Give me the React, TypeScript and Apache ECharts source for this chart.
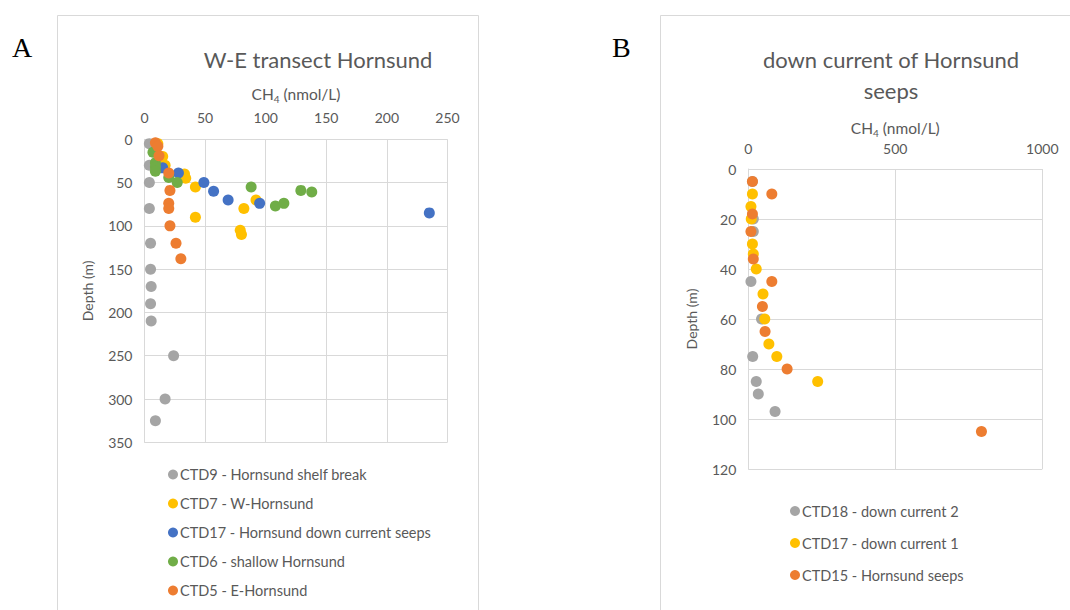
import React, { useEffect, useRef } from "react";
import * as echarts from "echarts";

// Panel A: [CH4 (nmol/L), depth (m)]
const ctd9ShelfBreak = [[4, 5], [4, 30], [4, 50], [4, 80], [5, 120], [5, 150], [5.5, 170], [5, 190], [5.5, 210], [24, 250], [17, 300], [9, 325]];
const ctd7WHornsund = [[11, 5], [15, 20], [17, 30], [33, 40], [34, 45], [42, 55], [42, 90], [92, 70], [82, 80], [79, 105], [80, 110]];
const ctd17DownCurrentSeeps = [[15, 33], [28, 39], [49, 50], [57, 60], [69, 70], [95, 74], [235, 85]];
const ctd6Shallow = [[7, 15], [9, 27], [9, 32], [9, 37], [20, 44], [27, 50], [88, 55], [108, 77], [115, 74], [129, 59], [138, 61]];
const ctd5EHornsund = [[9, 4], [11, 8], [12, 19], [20, 39], [21, 59], [20, 74], [20, 80], [21, 100], [26, 120], [30, 138]];

// Panel B
const ctd18DownCurrent2 = [[14, 5], [17, 20], [17, 25], [9, 45], [45, 60], [15, 75], [27, 85], [34, 90], [91, 97]];
const ctd17DownCurrent1 = [[14, 10], [9, 15], [10, 20], [14, 30], [17, 34], [27, 40], [50, 50], [56, 60], [70, 70], [97, 75], [236, 85]];
const ctd15Seeps = [[14, 5], [80, 10], [14, 18], [9, 25], [17, 36], [80, 45], [48, 55], [57, 65], [132, 80], [793, 105]];

const namesA = ["CTD9 - Hornsund shelf break", "CTD7 - W-Hornsund", "CTD17 - Hornsund down current seeps", "CTD6 - shallow Hornsund", "CTD5 - E-Hornsund"];
const namesB = ["CTD18 - down current 2", "CTD17 - down current 1", "CTD15 - Hornsund seeps"];
const dataA = [ctd9ShelfBreak, ctd7WHornsund, ctd17DownCurrentSeeps, ctd6Shallow, ctd5EHornsund];
const dataB = [ctd18DownCurrent2, ctd17DownCurrent1, ctd15Seeps];
const colorsA = ["#A5A5A5", "#FFC000", "#4472C4", "#70AD47", "#ED7D31"];
const colorsB = ["#A5A5A5", "#FFC000", "#ED7D31"];

const FONT = "Lato, 'Open Sans', sans-serif";
const TXT = "#595959";
const GRIDC = "#D9D9D9";

export default function App() {
  const ref = useRef<HTMLDivElement>(null);
  useEffect(() => {
    if (!ref.current) return;
    const chart = echarts.init(ref.current, null, { renderer: "svg" });
    const nameRich = {
      n: { fontSize: 15.5, color: TXT, fontFamily: FONT, lineHeight: 20 },
      s: { fontSize: 10, color: TXT, fontFamily: FONT, verticalAlign: "bottom" },
    };
    const xAxisBase = (gridIndex: number, max: number, interval: number, gap: number, margin: number) => ({
      type: "value",
      gridIndex,
      position: "top",
      min: 0,
      max,
      interval,
      name: "{n|CH}{s|4}{n| (nmol/L)}",
      nameLocation: "middle",
      nameGap: gap,
      nameTextStyle: { color: TXT, fontSize: 15.5, fontFamily: FONT, rich: nameRich },
      axisLine: { show: false },
      axisTick: { show: false },
      axisLabel: { color: TXT, fontSize: 14, fontFamily: FONT, margin, formatter: (v: number) => String(v) },
      splitLine: { show: true, lineStyle: { color: GRIDC, width: 1 } },
    });
    const yAxisBase = (gridIndex: number, max: number, interval: number, margin: number) => ({
      type: "value",
      gridIndex,
      inverse: true,
      min: 0,
      max,
      interval,
      name: "Depth (m)",
      nameLocation: "middle",
      nameGap: 50,
      nameRotate: 90,
      nameTextStyle: { color: TXT, fontSize: 14, fontFamily: FONT },
      axisLine: { show: true, lineStyle: { color: GRIDC, width: 1 } },
      axisTick: { show: false },
      axisLabel: { color: TXT, fontSize: 14, fontFamily: FONT, margin },
      splitLine: { show: true, lineStyle: { color: GRIDC, width: 1 } },
    });
    const series: any[] = [];
    dataA.forEach((d, i) =>
      series.push({
        type: "scatter",
        name: namesA[i],
        xAxisIndex: 0,
        yAxisIndex: 0,
        data: d,
        symbol: "circle",
        symbolSize: 11,
        itemStyle: { color: colorsA[i], opacity: 1 },
      })
    );
    dataB.forEach((d, i) =>
      series.push({
        type: "scatter",
        name: namesB[i],
        xAxisIndex: 1,
        yAxisIndex: 1,
        data: d,
        symbol: "circle",
        symbolSize: 11,
        itemStyle: { color: colorsB[i], opacity: 1 },
      })
    );
    const legendBase = {
      orient: "vertical",
      icon: "circle",
      itemWidth: 10,
      itemHeight: 10,
      itemGap: 12,
      textStyle: { color: TXT, fontSize: 14.5, fontFamily: FONT, padding: [0, 0, 0, -3], lineHeight: 17 },
      selectedMode: false,
    };
    chart.setOption({
      animation: false,
      backgroundColor: "#ffffff",
      grid: [
        { left: 144.5, top: 139.3, width: 303, height: 303, containLabel: false },
        { left: 748.3, top: 169, width: 294, height: 300, containLabel: false },
      ],
      xAxis: [xAxisBase(0, 250, 50, 35, 15), xAxisBase(1, 1000, 500, 31, 14)],
      yAxis: [yAxisBase(0, 350, 50, 12), yAxisBase(1, 120, 20, 12)],
      legend: [
        { ...legendBase, data: namesA, left: 163, top: 461 },
        { ...legendBase, data: namesB, left: 785, top: 497.5, itemGap: 15 },
      ],
      series,
      graphic: [
        { type: "rect", shape: { x: 57.5, y: 15.5, width: 421, height: 620 }, style: { fill: "none", stroke: GRIDC, lineWidth: 1 }, z: -1 },
        { type: "rect", shape: { x: 660.5, y: 15.5, width: 430, height: 620 }, style: { fill: "none", stroke: GRIDC, lineWidth: 1 }, z: -1 },
        { type: "text", x: 12, y: 47, style: { text: "A", fill: "#000", font: "28px 'Liberation Serif', 'DejaVu Serif', serif", textAlign: "left", textVerticalAlign: "middle" } },
        { type: "text", x: 612, y: 47, style: { text: "B", fill: "#000", font: "28px 'Liberation Serif', 'DejaVu Serif', serif", textAlign: "left", textVerticalAlign: "middle" } },
        { type: "text", x: 318, y: 59, style: { text: "W-E transect Hornsund", fill: TXT, font: `22px ${FONT}`, textAlign: "center", textVerticalAlign: "middle" } },
        { type: "text", x: 891, y: 59, style: { text: "down current of Hornsund", fill: TXT, font: `22px ${FONT}`, textAlign: "center", textVerticalAlign: "middle" } },
        { type: "text", x: 891, y: 90, style: { text: "seeps", fill: TXT, font: `22px ${FONT}`, textAlign: "center", textVerticalAlign: "middle" } },
      ],
    });
    return () => chart.dispose();
  }, []);
  return (
    <div
      ref={ref}
      style={{ position: "absolute", left: 0, top: 0, width: 1070, height: 610, background: "#fff" }}
    />
  );
}
